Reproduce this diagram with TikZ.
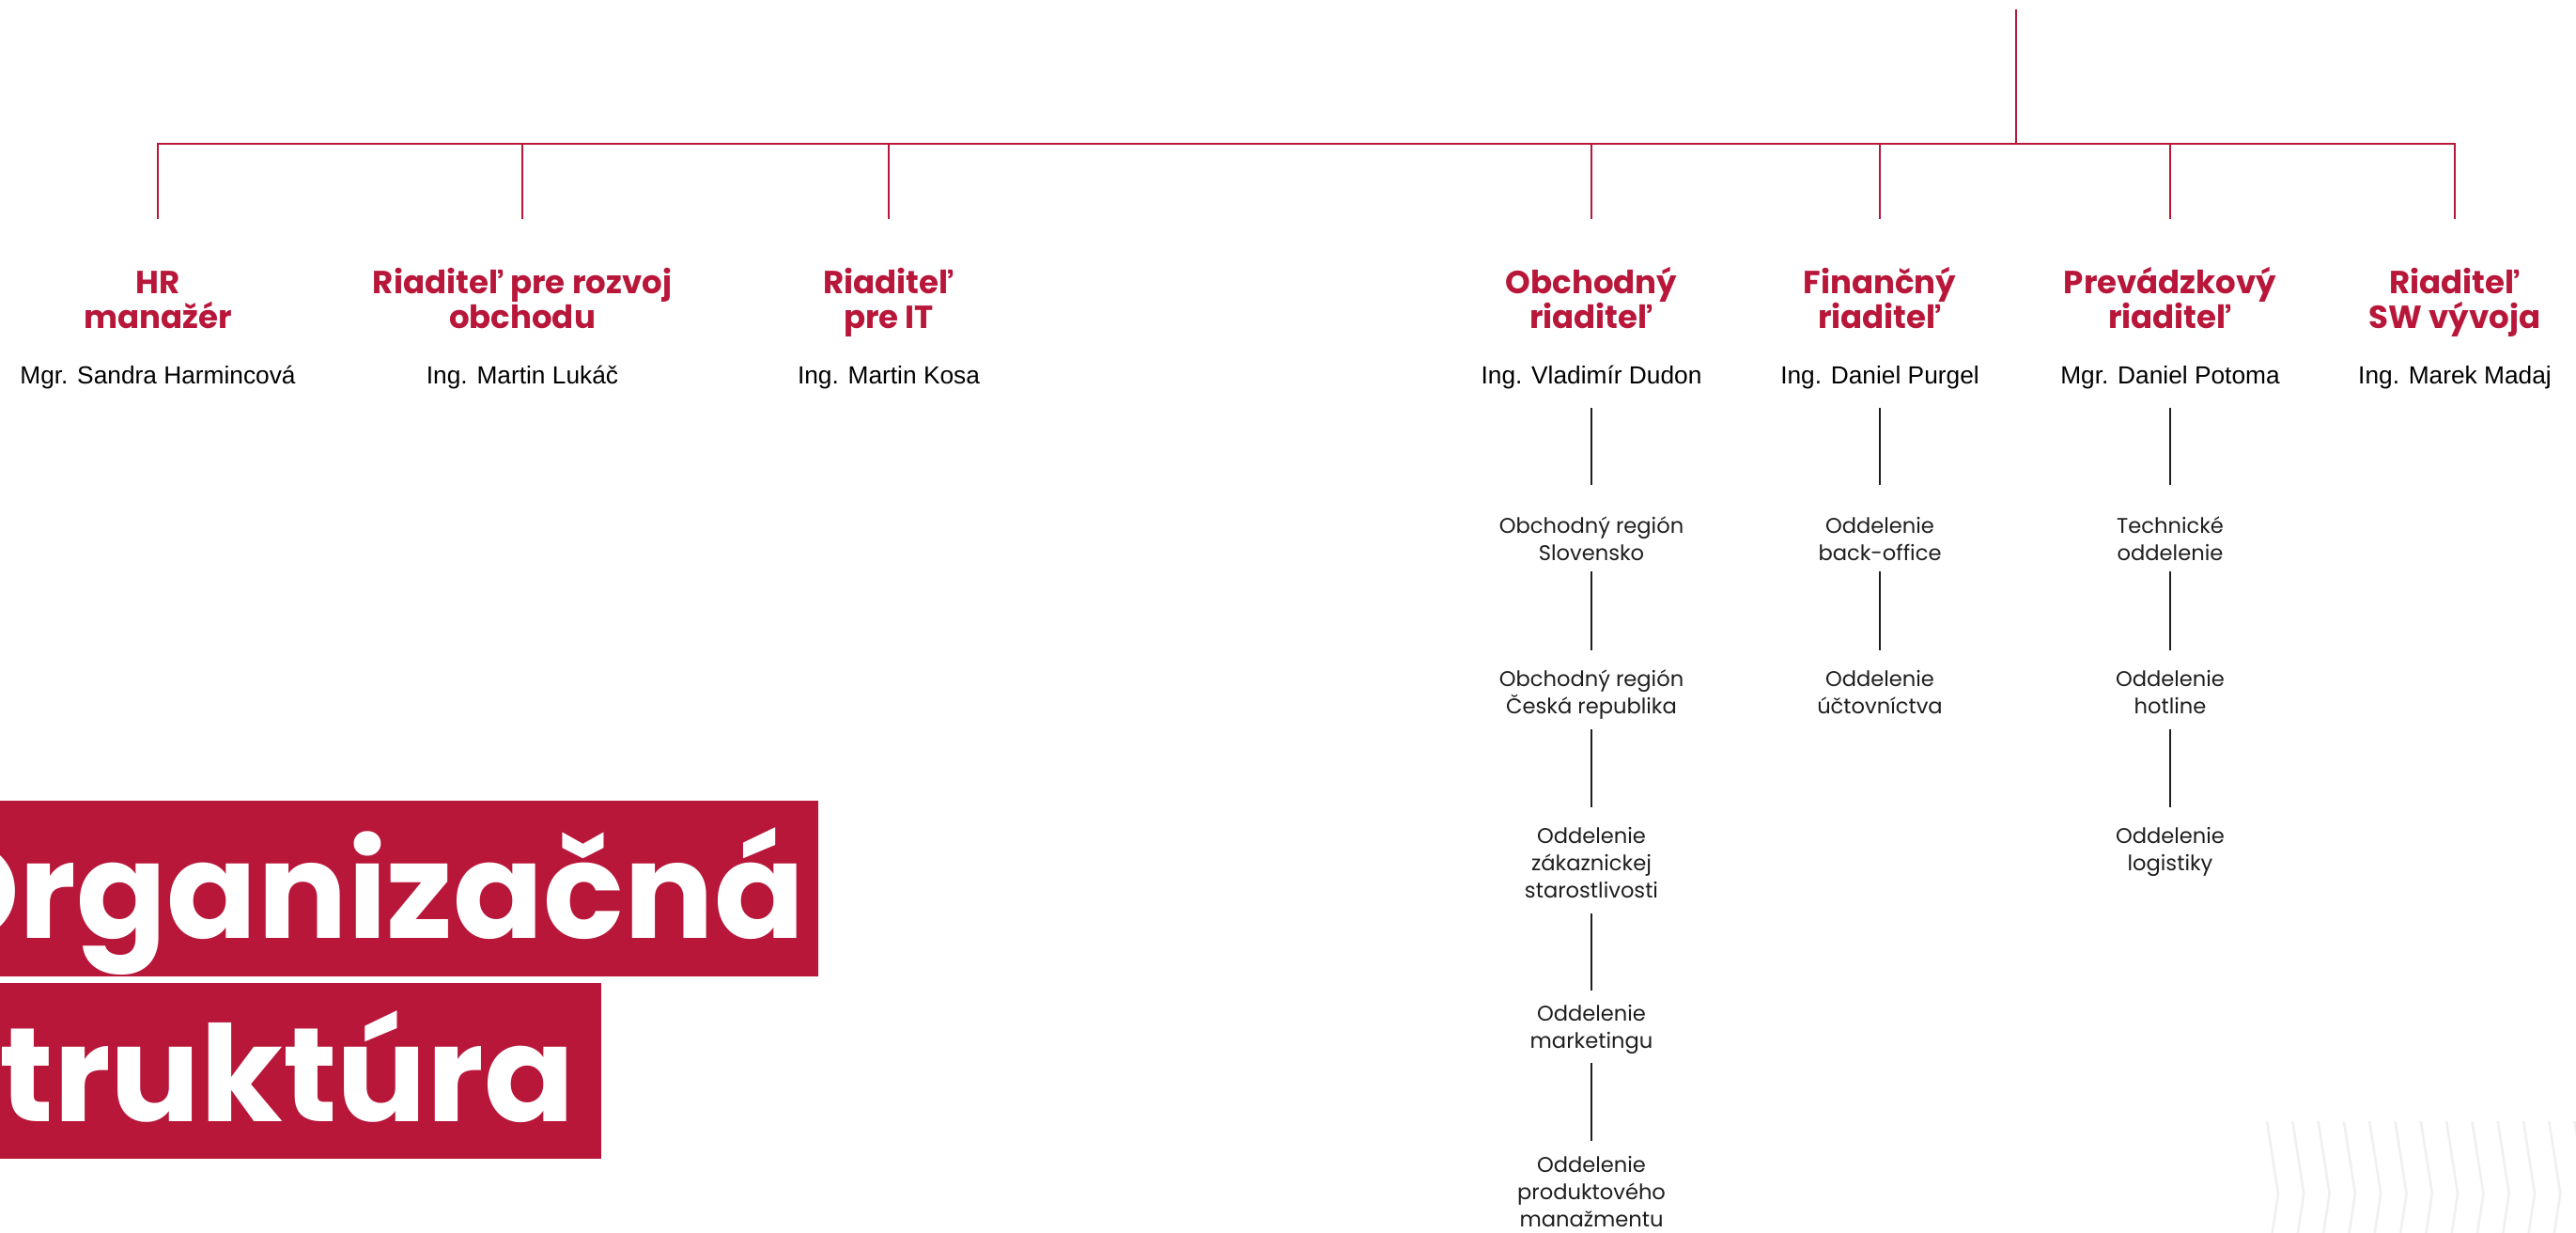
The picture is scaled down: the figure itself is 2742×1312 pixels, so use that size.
\documentclass[tikz,border=0pt]{standalone}
\usepackage{fontspec}
\setmainfont{Poppins}
\newfontfamily\namefont{Liberation Sans}
\usetikzlibrary{calc}
\definecolor{brand}{HTML}{B8173A}
\definecolor{chev}{HTML}{F0F0F0}
\definecolor{ink}{HTML}{1E1E1E}
\begin{document}
\begin{tikzpicture}[x=1pt,y=-1pt,
  head/.style={align=center, text=brand, font=\bfseries\fontsize{34}{37}\selectfont, inner sep=0pt, anchor=base},
  person/.style={text=black, font=\namefont\fontsize{26.3}{30}\selectfont, inner sep=0pt, anchor=base},
  dept/.style={align=center, text=ink, font=\fontsize{22.6}{29}\selectfont, inner sep=0pt, anchor=base},
  redline/.style={draw=brand, line width=2.6pt},
  blkline/.style={draw=ink, line width=2.2pt},
  chevline/.style={draw=chev, line width=2.6pt},
  titlebox/.style={fill=brand, draw=none},
  titletext/.style={text=white, font=\bfseries\fontsize{142}{150}\selectfont, inner sep=0pt, anchor=base east}
]
\clip (0,0) rectangle (2742,1312);
\fill[white] (0,0) rectangle (2742,1312);
% decorative chevrons
\foreach \i in {0,...,12}
  \draw[chevline] ({2413+27.3*\i},1193) -- ({2425+27.3*\i},1270) -- ({2418+27.3*\i},1316);
% title
\fill[titlebox] (0,852) rectangle (871,1039);
\fill[titlebox] (0,1046) rectangle (640,1233);
\node[titletext] (t1) at (857,998) {Organizačná};
\node[titletext] (t2) at (612,1193) {Štruktúra};
% headers
\node[head] (hr)   at (168,349)  {HR\\manažér};
\node[head] (roz)  at (556,349)  {Riaditeľ pre rozvoj\\obchodu};
\node[head] (it)   at (946,349)  {Riaditeľ\\pre IT};
\node[head] (obch) at (1694,349) {Obchodný\\riaditeľ};
\node[head] (fin)  at (2001,349) {Finančný\\riaditeľ};
\node[head] (prev) at (2310,349) {Prevádzkový\\riaditeľ};
\node[head] (sw)   at (2613,349) {Riaditeľ\\SW vývoja};
% persons
\node[person] (hrn)   at (168,408)  {Mgr. Sandra Harmincová};
\node[person] (rozn)  at (556,408)  {Ing. Martin Lukáč};
\node[person] (itn)   at (946,408)  {Ing. Martin Kosa};
\node[person] (obchn) at (1694,408) {Ing. Vladimír Dudon};
\node[person] (finn)  at (2001,408) {Ing. Daniel Purgel};
\node[person] (prevn) at (2310,408) {Mgr. Daniel Potoma};
\node[person] (swn)   at (2613,408) {Ing. Marek Madaj};
% red tree
\coordinate (root) at (2146,10);
\coordinate (bus) at (2146,153);
\draw[redline] (root) -- (bus);
\foreach \h in {hr,roz,it,obch,fin,prev,sw}
  \draw[redline] (bus) -| ($(\h.base)+(0,-116)$);
% departments: sales
\node[dept] (o1) at (1694,596)  {Obchodný región\\Slovensko};
\node[dept] (o2) at (1694,759)  {Obchodný región\\Česká republika};
\node[dept] (o3) at (1694,955)  {Oddelenie\\zákaznickej\\starostlivosti};
\node[dept] (o4) at (1694,1115) {Oddelenie\\marketingu};
\node[dept] (o5) at (1694,1305) {Oddelenie\\produktového\\manažmentu};
% finance
\node[dept] (f1) at (2001,596) {Oddelenie\\back-office};
\node[dept] (f2) at (2001,759) {Oddelenie\\účtovníctva};
% operations
\node[dept] (p1) at (2310,596) {Technické\\oddelenie};
\node[dept] (p2) at (2310,759) {Oddelenie\\hotline};
\node[dept] (p3) at (2310,926) {Oddelenie\\logistiky};
% black connectors
\draw[blkline] ($(obchn.base)+(0,26)$) -- ($(o1.base)+(0,-80)$);
\draw[blkline] ($(o1.base)+(0,12)$) -- ($(o2.base)+(0,-67)$);
\draw[blkline] ($(o2.base)+(0,17)$) -- ($(o3.base)+(0,-96)$);
\draw[blkline] ($(o3.base)+(0,17)$) -- ($(o4.base)+(0,-61)$);
\draw[blkline] ($(o4.base)+(0,16)$) -- ($(o5.base)+(0,-91)$);
\draw[blkline] ($(finn.base)+(0,26)$) -- ($(f1.base)+(0,-80)$);
\draw[blkline] ($(f1.base)+(0,12)$) -- ($(f2.base)+(0,-67)$);
\draw[blkline] ($(prevn.base)+(0,26)$) -- ($(p1.base)+(0,-80)$);
\draw[blkline] ($(p1.base)+(0,12)$) -- ($(p2.base)+(0,-67)$);
\draw[blkline] ($(p2.base)+(0,17)$) -- ($(p3.base)+(0,-67)$);
\end{tikzpicture}
\end{document}
